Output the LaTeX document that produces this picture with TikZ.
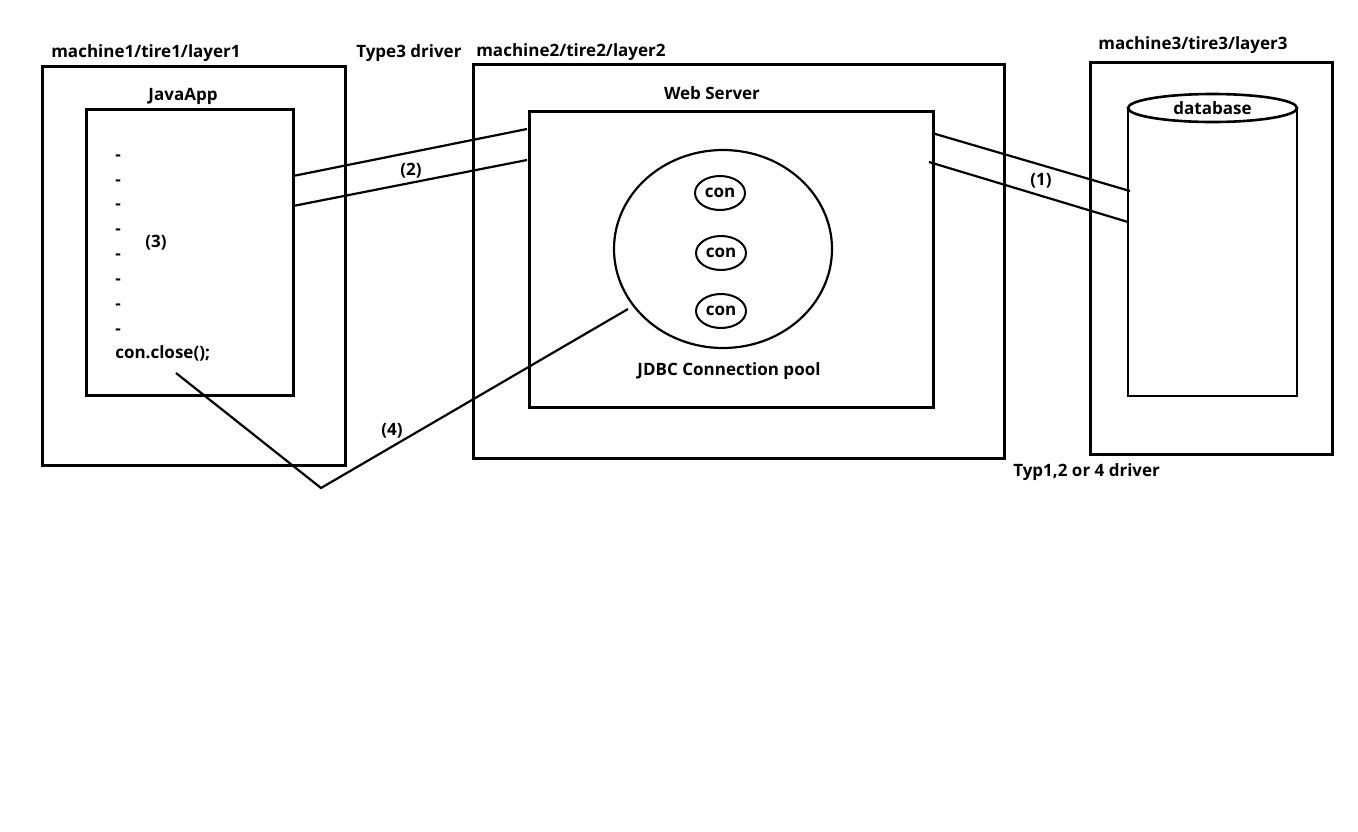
\documentclass[tikz,border=0pt]{standalone}
\usepackage{fontspec}
\setmainfont{Open Sans}
\usetikzlibrary{shapes.geometric}
\begin{document}
\begin{tikzpicture}[x=1pt,y=-1pt,line width=2.6pt,
  box/.style={draw,line width=2.6pt,inner sep=0pt,anchor=north west},
  lbl/.style={font=\fontsize{17}{20}\selectfont\bfseries,inner sep=0pt},
  conn/.style={draw,ellipse,line width=2pt,inner sep=0pt,minimum width=50pt,minimum height=34pt,font=\fontsize{17}{20}\selectfont\bfseries},
  wire/.style={line width=2.2pt}]
\useasboundingbox[fill=white] (0,0) rectangle (1358,831);
% boxes
\node[box,minimum width=303pt,minimum height=399pt] (m1) at (41,65) {};
\node[box,minimum width=207pt,minimum height=286pt] (java) at (85,108) {};
\node[box,minimum width=531pt,minimum height=394pt] (m2) at (472,63) {};
\node[box,minimum width=404pt,minimum height=296pt] (web) at (528,110) {};
\node[box,minimum width=242pt,minimum height=392pt] (m3) at (1089,61) {};
% database cylinder
\draw[line width=2.6pt] (1128,108) -- (1128,396) -- (1297,396) -- (1297,108);
\node[draw,ellipse,line width=2.6pt,fill=white,minimum width=169pt,minimum height=28pt,inner sep=0pt,lbl] (db) at (1212.5,108) {database};
% pool
\node[draw,ellipse,line width=2.2pt,minimum width=218pt,minimum height=198pt,inner sep=0pt] (pool) at (723,249) {};
\node[conn] (c1) at (720,193) {con};
\node[conn] (c2) at (721,253) {con};
\node[conn] (c3) at (721,311) {con};
% labels
\node[lbl,anchor=west] (t1) at (50,53) {machine1/tire1/layer1};
\node[lbl,anchor=west] (t3d) at (355,53) {Type3 driver};
\node[lbl,anchor=west] (t2) at (475,52) {machine2/tire2/layer2};
\node[lbl,anchor=west] (t3) at (1097,45) {machine3/tire3/layer3};
\node[lbl] (ja) at (183,96) {JavaApp};
\node[lbl] (ws) at (712,93) {Web Server};
\node[lbl] (jp) at (729,371) {JDBC Connection pool};
\node[lbl,anchor=west] (td) at (1012,472) {Typ1,2 or 4 driver};
\node[lbl] (l3) at (156,243) {(3)};
\node[lbl] (l2) at (411,171) {(2)};
\node[lbl] (l1) at (1041,181) {(1)};
\node[lbl] (l4) at (392,431) {(4)};
\foreach \y [count=\i] in {155,180,204,229,254,279,304,329}
  \node[lbl] (d\i) at (118,\y+3) {-};
\node[lbl,anchor=west] (cc) at (114,353) {con.close();};
% connectors
\coordinate (a1) at (293,176); \coordinate (b1) at (527,129);
\coordinate (a2) at (293,206); \coordinate (b2) at (527,160);
\draw[wire] (a1) -- (b1);
\draw[wire] (a2) -- (b2);
\coordinate (e1) at (932,133); \coordinate (f1) at (1130,191);
\coordinate (e2) at (929,162); \coordinate (f2) at (1128,222);
\draw[wire] (e1) -- (f1);
\draw[wire] (e2) -- (f2);
\coordinate (g0) at (176,373); \coordinate (g1) at (321,488); \coordinate (g2) at (628,309);
\draw[wire] (g0) -- (g1) -- (g2);
\end{tikzpicture}
\end{document}
